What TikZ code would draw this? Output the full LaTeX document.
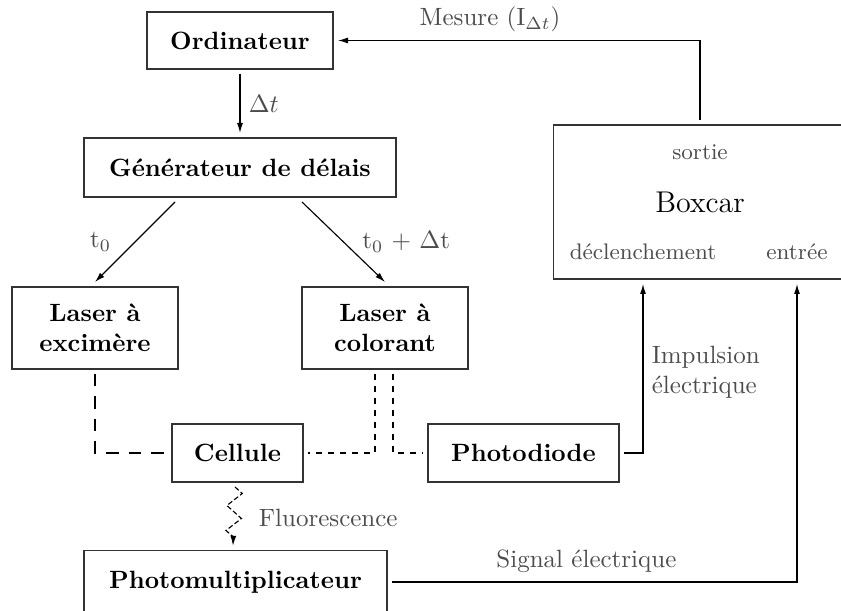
\documentclass[tikz,border=0pt]{standalone}
\usepackage{amsmath}
\usetikzlibrary{arrows.meta,calc,decorations.pathmorphing}

\begin{document}
\begin{tikzpicture}[
    x=0.4pt, y=-0.4pt,
    bloc/.style={draw=black!80, line width=0.5pt, font=\bfseries, align=center, inner sep=0pt, outer sep=2pt},
    fleche/.style={-{Latex[length=4pt,width=2.4pt]}, line width=0.45pt},
    tirets/.style={line width=0.45pt, dash pattern=on 5pt off 4pt},
    pointilles/.style={line width=0.45pt, dash pattern=on 2.4pt off 2.4pt},
    etiquette/.style={text=black!70},
    port/.style={font=\small, text=black!70}
]
\useasboundingbox (0,0) rectangle (841,611);
% blocs
\node[bloc, minimum width=74.4pt, minimum height=22.8pt] (ordi) at (240,40.5) {Ordinateur};
\node[bloc, minimum width=124.8pt, minimum height=23.6pt] (gene) at (240,167.5) {Générateur de délais};
\node[bloc, minimum width=66.4pt, minimum height=32.8pt] (exci) at (95,328) {Laser à\\excimère};
\node[bloc, minimum width=66.4pt, minimum height=32.8pt] (colo) at (385,328) {Laser à\\colorant};
\node[bloc, minimum width=52.4pt, minimum height=23.2pt] (cell) at (237.5,453) {Cellule};
\node[bloc, minimum width=76.4pt, minimum height=23.2pt] (diode) at (523.5,453) {Photodiode};
\node[bloc, minimum width=121.2pt, minimum height=25pt] (pm) at (235.5,582) {Photomultiplicateur};
\node[bloc, font=\large, minimum width=117pt, minimum height=61.6pt] (boxcar) at (700,202) {Boxcar};
\node[port] (sortie) at (700,152) {sortie};
\node[port] (decl) at (643,252) {déclenchement};
\node[port] (entree) at (797,252) {entrée};
% liaisons
\draw[fleche] (ordi) -- (gene) node[midway, right, etiquette] (dt) {$\Delta t$};
\draw[fleche] ([xshift=-26pt]gene.south) -- (exci.north) node[midway, left=6pt, etiquette] (tzero) {t$_0$};
\draw[fleche] ([xshift=24.8pt]gene.south) -- (colo.north) node[midway, right=4pt, etiquette] (tdelai) {t$_0$ + $\Delta$t};
\draw[fleche] (boxcar.north) |- (ordi.east) node[pos=0.79, above, etiquette] (mesure) {Mesure (I$_{\Delta t}$)};
\draw[fleche] (diode.east) -| (decl |- boxcar.south) node[pos=0.74, right, align=left, etiquette] (impulsion) {Impulsion\\électrique};
\draw[fleche] (pm.east) -| (entree |- boxcar.south) node[pos=0.24, above, etiquette] (signal) {Signal électrique};
% faisceaux laser
\draw[tirets] (exci.south) |- (cell.west);
\draw[pointilles] ([xshift=-4pt]colo.south) |- (cell.east);
\draw[pointilles] ([xshift=3.2pt]colo.south) |- (diode.west);
% fluorescence
\draw[fleche, dash pattern=on 2pt off 1pt, decorate, decoration={zigzag, amplitude=3pt, segment length=10pt, post length=2pt}] ([xshift=-1pt]cell.south) -- ([xshift=-1pt]pm.north);
\node[etiquette, anchor=west] (fluo) at (250,518) {Fluorescence};
\end{tikzpicture}
\end{document}
